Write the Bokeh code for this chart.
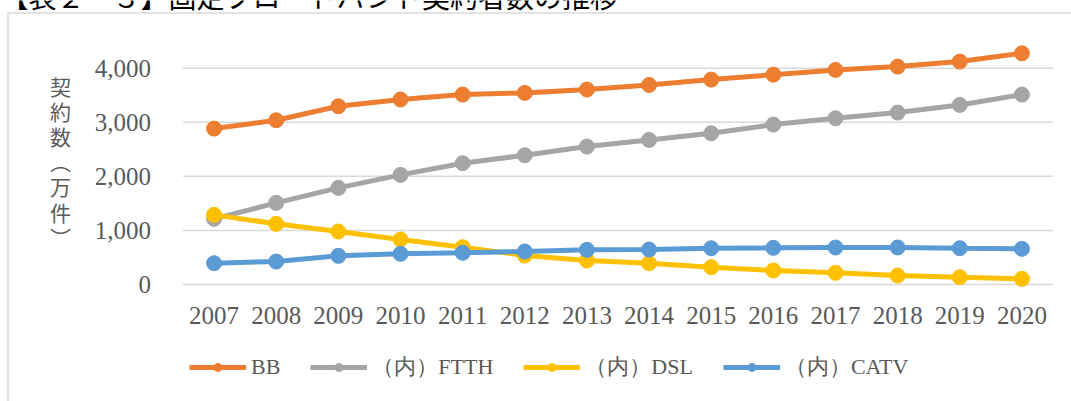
from bokeh.plotting import figure
from bokeh.models import (Range1d, FixedTicker, NumeralTickFormatter, Legend, LegendItem,
                          Label, BoxAnnotation, ColumnDataSource)
from bokeh.embed import file_html
from bokeh.resources import INLINE

years = [2007, 2008, 2009, 2010, 2011, 2012, 2013,
         2014, 2015, 2016, 2017, 2018, 2019, 2020]
bb   = [2883, 3037, 3296, 3420, 3512, 3543, 3605, 3690, 3789, 3881, 3968, 4030, 4122, 4275]
ftth = [1214, 1510, 1787, 2027, 2243, 2391, 2551, 2674, 2797, 2957, 3074, 3179, 3321, 3512]
dsl  = [1288, 1122, 980, 832, 690, 536, 444, 394, 320, 259, 216, 166, 135, 105]
catv = [394, 425, 530, 567, 586, 610, 641, 647, 671, 678, 684, 684, 671, 660]

series_names = ["BB", "（内）FTTH", "（内）DSL", "（内）CATV"]
series_values = [bb, ftth, dsl, catv]
series_colors = ["#ED7D31", "#A5A5A5", "#FFC000", "#5B9BD5"]
y_ticks = [0, 1000, 2000, 3000, 4000]
title_text = "【表２－３】固定ブロードバンド契約者数の推移"
y_title = "契\n約\n数\n︵\n万\n件\n︶"

# ---- layout (pixels) ----
W, H = 1071, 401
area_left, area_right = 182.5, 1052.5      # plot area, horizontal
zero_px, px_per_1000 = 284.0, 54.075       # y=0 position and scale

x_lo = years[0] - 0.5
x_hi = years[-1] + 0.5
unit = (area_right - area_left) / (x_hi - x_lo)
x_range = Range1d(x_lo - area_left / unit, x_hi + (W - area_right) / unit)
y_range = Range1d(-(H - zero_px) / px_per_1000 * 1000, zero_px / px_per_1000 * 1000)

p = figure(width=W, height=H, x_range=x_range, y_range=y_range, title=None,
           output_backend="svg", toolbar_location=None, min_border=0)
p.outline_line_color = None
p.background_fill_color = "white"
p.border_fill_color = "white"
p.grid.visible = False

# axes drawn inside the canvas at the plot-area edges
p.xaxis.fixed_location = 0
p.xaxis.ticker = FixedTicker(ticks=years)
p.xaxis.formatter = NumeralTickFormatter(format="0")
p.xaxis.axis_line_color = None
p.xaxis.major_tick_line_color = None
p.xaxis.minor_tick_line_color = None
p.xaxis.major_label_text_font = "Liberation Serif"
p.xaxis.major_label_text_font_size = "25px"
p.xaxis.major_label_text_color = "#595959"
p.xaxis.major_label_standoff = 16

p.yaxis.fixed_location = x_lo
p.yaxis.ticker = FixedTicker(ticks=y_ticks)
p.yaxis.formatter = NumeralTickFormatter(format="0,0")
p.yaxis.axis_line_color = None
p.yaxis.major_tick_line_color = None
p.yaxis.minor_tick_line_color = None
p.yaxis.major_label_text_font = "Liberation Serif"
p.yaxis.major_label_text_font_size = "25px"
p.yaxis.major_label_text_color = "#595959"
p.yaxis.major_label_standoff = 26

# horizontal gridlines across the plot area
p.segment(x0=[x_lo] * len(y_ticks), x1=[x_hi] * len(y_ticks), y0=y_ticks, y1=y_ticks,
          line_color="#D9D9D9", line_width=1.5)

# series
items = []
nan = float("nan")
for name, vals, col in zip(series_names, series_values, series_colors):
    src = ColumnDataSource(dict(x=years, y=vals))
    p.line("x", "y", source=src, line_color=col, line_width=5)
    p.scatter("x", "y", source=src, size=15, fill_color=col, line_color=col)
    # legend proxies (not drawn in the plot): thinner marker like the reference legend
    proxy = ColumnDataSource(dict(x=[nan], y=[nan]))
    lr = p.line("x", "y", source=proxy, line_color=col, line_width=5)
    sr = p.scatter("x", "y", source=proxy, size=9, fill_color=col, line_color=col)
    items.append(LegendItem(label=name, renderers=[lr, sr]))

legend = Legend(items=items, orientation="horizontal", location=(189, 19),
                glyph_width=57, glyph_height=20, label_height=20,
                label_text_font="Liberation Serif", label_text_font_size="22px",
                label_text_color="#595959", label_standoff=5, spacing=30,
                padding=0, margin=0, border_line_color=None,
                background_fill_alpha=0)
p.add_layout(legend)

# vertical Japanese axis title
p.add_layout(Label(x=60, y=70, x_units="canvas", y_units="canvas", text=y_title,
                   text_align="center", text_baseline="top",
                   text_font="Noto Sans CJK JP", text_font_size="21px",
                   text_line_height=0.84, text_color="#595959"))

# chart box border (top and left edges visible)
p.add_layout(BoxAnnotation(left=7.5, right=W + 50, top=12.5, bottom=H + 50,
                           left_units="canvas", right_units="canvas",
                           top_units="canvas", bottom_units="canvas",
                           fill_alpha=0, line_color="#D9D9D9", line_alpha=1,
                           line_width=1.5))

# page caption, cut off at the top edge as in the reference
p.add_layout(Label(x=0, y=-5, x_units="canvas", y_units="canvas", text=title_text,
                   text_align="left", text_baseline="alphabetic",
                   text_font="Noto Sans CJK JP", text_font_size="28px",
                   text_color="#000000"))

open("out.html", "w").write(file_html(p, INLINE))
